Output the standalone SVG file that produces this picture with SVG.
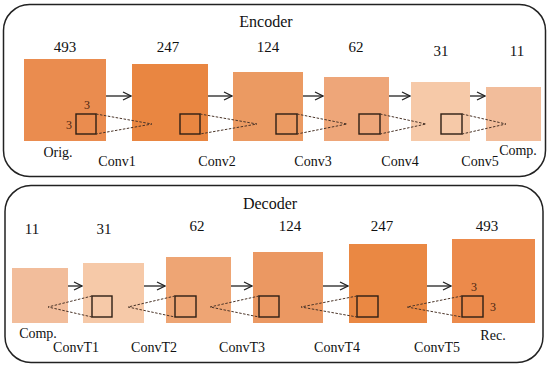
<svg xmlns="http://www.w3.org/2000/svg" width="550" height="366" viewBox="0 0 550 366">
<defs>
<marker id="ah" markerWidth="10" markerHeight="10" refX="9" refY="5" orient="auto" markerUnits="userSpaceOnUse">
<path d="M1,1 L9,5 L1,9" fill="none" stroke="#222" stroke-width="1.3"/>
</marker>
<style>
.frame{fill:#fff;stroke:#222;stroke-width:1.5}
.t{font-family:"Liberation Serif","Times New Roman",serif;fill:#111;text-anchor:middle}
.title{font-size:16px}
.num{font-size:15px}
.lab{font-size:14px}
.k{fill:none;stroke:#2e1e14;stroke-width:1.4}
.kt{font-family:"Liberation Serif","Times New Roman",serif;font-size:12px;fill:#4a2410;text-anchor:middle}
.arr{stroke:#222;stroke-width:1.3;fill:none}
.dot{stroke:#4a3428;stroke-width:1;stroke-dasharray:2.5 1.5;fill:none}
</style>
</defs>

<rect class="frame" x="3.5" y="4.5" width="542" height="172" rx="26"/>
<rect class="frame" x="5" y="185.5" width="538" height="177" rx="26"/>

<g id="encoder-title"><text class="t title" x="266" y="27">Encoder</text></g>
<g id="decoder-title"><text class="t title" x="270" y="209">Decoder</text></g>

<!-- Encoder nodes -->
<g id="e-orig">
<text class="t num" x="65" y="52">493</text>
<rect x="24" y="59" width="82" height="82" fill="#EA8C4F"/>
<rect class="k" x="76" y="114" width="20" height="20"/>
<text class="kt" x="87" y="109">3</text>
<text class="kt" x="69" y="129">3</text>
<text class="t lab" x="58" y="157">Orig.</text>
</g>
<g id="e-conv1">
<text class="t num" x="168" y="52">247</text>
<rect x="132" y="64" width="76" height="77" fill="#E98641"/>
<rect class="k" x="180" y="114" width="20" height="20"/>
<text class="t lab" x="117" y="166">Conv1</text>
</g>
<g id="e-conv2">
<text class="t num" x="268" y="52">124</text>
<rect x="233" y="72" width="70" height="69" fill="#EB9A62"/>
<rect class="k" x="276" y="114" width="21" height="20"/>
<text class="t lab" x="217" y="166">Conv2</text>
</g>
<g id="e-conv3">
<text class="t num" x="356" y="52">62</text>
<rect x="324" y="77" width="65" height="64" fill="#EEA679"/>
<rect class="k" x="359" y="114" width="21" height="20"/>
<text class="t lab" x="313" y="166">Conv3</text>
</g>
<g id="e-conv4">
<text class="t num" x="441" y="56">31</text>
<rect x="411" y="82" width="59" height="59" fill="#F6C9A8"/>
<rect class="k" x="441" y="114" width="21" height="20"/>
<text class="t lab" x="400" y="166">Conv4</text>
</g>
<g id="e-conv5">
<text class="t num" x="517" y="56">11</text>
<rect x="486" y="87" width="55" height="54" fill="#F2BD9B"/>
<text class="t lab" x="518" y="155">Comp.</text>
<text class="t lab" x="480" y="166">Conv5</text>
</g>

<!-- Decoder nodes -->
<g id="d-comp">
<text class="t num" x="32" y="234">11</text>
<rect x="12" y="268" width="56" height="55" fill="#F2BD9B"/>
<text class="t lab" x="38" y="338">Comp.</text>
</g>
<g id="d-convt1">
<text class="t num" x="104" y="234">31</text>
<rect x="83" y="263" width="61" height="60" fill="#F6C9A8"/>
<rect class="k" x="92" y="296" width="20" height="21"/>
<text class="t lab" x="76" y="352">ConvT1</text>
</g>
<g id="d-convt2">
<text class="t num" x="197" y="231">62</text>
<rect x="166" y="257" width="65" height="66" fill="#EEA574"/>
<rect class="k" x="175" y="296" width="21" height="21"/>
<text class="t lab" x="154" y="352">ConvT2</text>
</g>
<g id="d-convt3">
<text class="t num" x="290" y="231">124</text>
<rect x="253" y="252" width="70" height="71" fill="#EB9862"/>
<rect class="k" x="259" y="296" width="20" height="21"/>
<text class="t lab" x="242" y="352">ConvT3</text>
</g>
<g id="d-convt4">
<text class="t num" x="382" y="231">247</text>
<rect x="349" y="244" width="78" height="79" fill="#EA8843"/>
<rect class="k" x="357" y="296" width="21" height="21"/>
<text class="t lab" x="337" y="352">ConvT4</text>
</g>
<g id="d-rec">
<text class="t num" x="487" y="231">493</text>
<rect x="452" y="239" width="83" height="84" fill="#EC8A4B"/>
<rect class="k" x="462" y="296" width="21" height="21"/>
<text class="kt" x="474" y="291">3</text>
<text class="kt" x="493" y="311">3</text>
<text class="t lab" x="493" y="340">Rec.</text>
<text class="t lab" x="437" y="352">ConvT5</text>
</g>

<g id="connectors">
<line class="arr" x1="106" y1="96" x2="131" y2="96" marker-end="url(#ah)"/>
<line class="arr" x1="208" y1="96" x2="232" y2="96" marker-end="url(#ah)"/>
<line class="arr" x1="303" y1="96" x2="323" y2="96" marker-end="url(#ah)"/>
<line class="arr" x1="389" y1="96" x2="410" y2="96" marker-end="url(#ah)"/>
<line class="arr" x1="470" y1="96" x2="485" y2="96" marker-end="url(#ah)"/>

<path class="dot" d="M96,114 L152,124 L96,134"/>
<path class="dot" d="M200,114 L257,124 L200,134"/>
<path class="dot" d="M297,114 L347,124 L297,134"/>
<path class="dot" d="M380,114 L426,124 L380,134"/>
<path class="dot" d="M462,114 L506,124 L462,134"/>

<line class="arr" x1="68" y1="286" x2="82" y2="286" marker-end="url(#ah)"/>
<line class="arr" x1="144" y1="286" x2="165" y2="286" marker-end="url(#ah)"/>
<line class="arr" x1="231" y1="286" x2="252" y2="286" marker-end="url(#ah)"/>
<line class="arr" x1="323" y1="286" x2="348" y2="286" marker-end="url(#ah)"/>
<line class="arr" x1="427" y1="286" x2="451" y2="286" marker-end="url(#ah)"/>

<path class="dot" d="M92,296 L48,307 L92,317"/>
<path class="dot" d="M175,296 L128,307 L175,317"/>
<path class="dot" d="M259,296 L210,307 L259,317"/>
<path class="dot" d="M357,296 L301,307 L357,317"/>
<path class="dot" d="M462,296 L407,307 L462,317"/>
</g>
</svg>
